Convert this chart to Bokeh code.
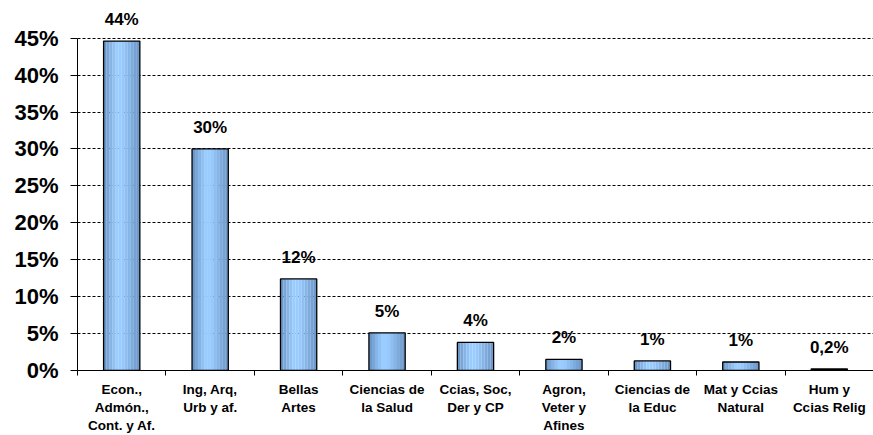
from bokeh.plotting import figure
from bokeh.models import ColumnDataSource, FixedTicker, Range1d, LabelSet
from bokeh.core.properties import value
from bokeh.embed import file_html
from bokeh.resources import INLINE

categories = ["Econ.,\nAdmón.,\nCont. y Af.", "Ing, Arq,\nUrb y af.", "Bellas\nArtes",
              "Ciencias de\nla Salud", "Ccias, Soc,\nDer y CP", "Agron,\nVeter y\nAfines",
              "Ciencias de\nla Educ", "Mat y Ccias\nNatural", "Hum y\nCcias Relig"]
values = [44.6, 30.0, 12.4, 5.1, 3.8, 1.5, 1.3, 1.15, 0.2]
labels = ["44%", "30%", "12%", "5%", "4%", "2%", "1%", "1%", "0,2%"]
y_ticks = [0, 5, 10, 15, 20, 25, 30, 35, 40, 45]

idx = list(range(len(categories)))
FONT = "Liberation Sans"

p = figure(width=873, height=435, output_backend="svg", toolbar_location=None,
           x_range=Range1d(-0.5, len(categories) - 0.5), y_range=Range1d(0, 50.1),
           min_border_left=77, min_border_right=0, min_border_top=0, min_border_bottom=63)
p.outline_line_color = None
p.background_fill_color = "white"
p.xgrid.grid_line_color = None
p.ygrid.grid_line_color = "black"
p.ygrid.grid_line_dash = "3 2"
p.ygrid.grid_line_width = 1

src = ColumnDataSource(dict(x=idx, top=values, lab=labels))

# gradient bars built from narrow strips
bw = 0.41
shades = ["#6b97c9", "#79a6d9", "#86b4e6", "#91c1f2", "#99ccff", "#99ccff",
          "#96c8fb", "#8fbff2", "#86b5e8", "#7eabde", "#77a2d4", "#6f99ca"]
n = len(shades)
sw = bw / n
for k, c in enumerate(shades):
    off = -bw / 2 + sw * (k + 0.5)
    s = ColumnDataSource(dict(x=[i + off for i in idx], top=values))
    p.vbar(x="x", top="top", width=sw * 1.02, bottom=0, source=s,
           fill_color=c, line_color=None)
p.vbar(x="x", top="top", width=bw, bottom=0, source=src,
       fill_color=None, line_color="black", line_width=1.3)

lbl = LabelSet(x="x", y="top", text="lab", source=src, text_align="center",
               text_baseline="bottom", y_offset=12,
               text_font=value(FONT), text_font_style="bold", text_font_size="17px",
               text_color="black")
p.add_layout(lbl)

# axes
p.xaxis.ticker = FixedTicker(ticks=idx, minor_ticks=[i - 0.5 for i in range(len(categories) + 1)])
p.xaxis.major_label_overrides = {i: c for i, c in enumerate(categories)}
p.xaxis.major_tick_out = 0
p.xaxis.major_tick_in = 0
p.xaxis.minor_tick_out = 5
p.xaxis.minor_tick_in = 0
p.xaxis.minor_tick_line_color = "black"
p.xaxis.axis_line_color = "black"
p.xaxis.major_label_text_font = FONT
p.xaxis.major_label_text_font_style = "bold"
p.xaxis.major_label_text_font_size = "13.5px"
p.xaxis.major_label_text_line_height = 1.2
p.xaxis.major_label_standoff = 6
p.xaxis.major_label_text_color = "black"

p.yaxis.ticker = FixedTicker(ticks=y_ticks)
p.yaxis.major_label_overrides = {t: f"{t}%" for t in y_ticks}
p.yaxis.bounds = (0, 45)
p.yaxis.major_tick_out = 7
p.yaxis.major_tick_in = 0
p.yaxis.minor_tick_line_color = None
p.yaxis.axis_line_color = "black"
p.yaxis.major_label_text_font = FONT
p.yaxis.major_label_text_font_style = "bold"
p.yaxis.major_label_text_font_size = "22px"
p.yaxis.major_label_standoff = 12
p.yaxis.major_label_text_color = "black"

open("out.html", "w").write(file_html(p, INLINE))
